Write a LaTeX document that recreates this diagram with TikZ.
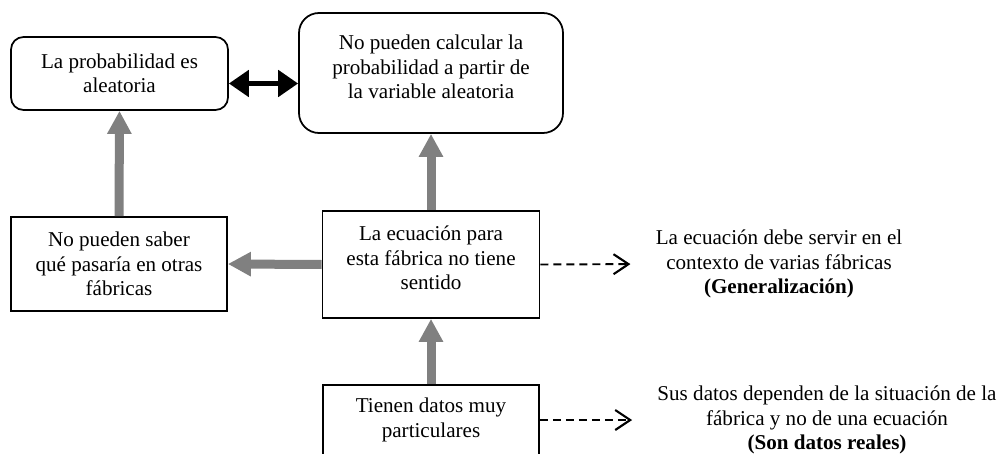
\documentclass[tikz,border=0pt]{standalone}
\usepackage{fontspec}
\setmainfont{Liberation Serif}
\usetikzlibrary{arrows.meta,positioning}

\tikzset{
  roundbox/.style={draw, line width=1pt, rounded corners=0.25cm, align=center,
    font=\fontsize{12}{13.9}\selectfont},
  squarebox/.style={draw, line width=1pt, align=center,
    font=\fontsize{12}{13.9}\selectfont},
  note/.style={align=center, inner sep=0pt, font=\fontsize{12}{13.9}\selectfont},
  grayarrow/.style={draw=gray, line width=0.18cm, -{Triangle[width=0.46cm,length=0.46cm]}},
  dblarrow/.style={line width=0.1cm,
    {Triangle[width=0.52cm,length=0.4cm]}-{Triangle[width=0.52cm,length=0.4cm]}},
  dasharrow/.style={line width=1.1pt, dash pattern=on 0.16cm off 0.1cm,
    -{Straight Barb[length=0.3cm,width=0.4cm,line width=1.2pt]}, shorten >=0.5cm}
}

\begin{document}
\begin{tikzpicture}
    \useasboundingbox (0,0) rectangle (20.04,9.06);
    % top row
    \node[roundbox, minimum width=4.34cm, minimum height=1.46cm] (azar) at (2.39,7.59)
        {La probabilidad es\\aleatoria};
    \node[roundbox, rounded corners=0.4cm, minimum width=5.28cm, minimum height=2.4cm] (calc) at (8.62,7.6)
        {No pueden calcular la\\probabilidad a partir de\\la variable aleatoria\\[-6.8pt]\mbox{}};
    % middle row
    \node[squarebox, minimum width=4.32cm, minimum height=1.88cm] (saber) at (2.38,3.78)
        {No pueden saber\\qué pasaría en otras\\fábricas};
    \node[squarebox, minimum width=4.34cm, minimum height=2.14cm] (ecua) at (8.62,3.77)
        {La ecuación para\\esta fábrica no tiene\\sentido\\[-6.2pt]\mbox{}};
    % bottom row
    \node[squarebox, minimum width=4.32cm, minimum height=1.4cm] (datos) at (8.62,0.66)
        {Tienen datos muy\\particulares};
    % notes
    \node[note] (gen) at (15.58,3.78)
        {La ecuación debe servir en el\\contexto de varias fábricas\\\textbf{(Generalización)}};
    \node[note] (real) at (16.54,0.66)
        {Sus datos dependen de la situación de la\\fábrica y no de una ecuación\\\textbf{(Son datos reales)}};

    \draw[dblarrow] ([yshift=-0.2cm]azar.east) -- ([yshift=-0.2cm]azar.east -| calc.west);
    \draw[grayarrow] (saber.north) -- (azar.south);
    \draw[grayarrow] (ecua.north) -- (calc.south);
    \draw[grayarrow] (ecua.west) -- (saber.east);
    \draw[grayarrow] (datos.north) -- (ecua.south);
    \draw[dasharrow] (ecua.east) -- (gen.west);
    \draw[dasharrow] (datos.east) -- (real.west);
\end{tikzpicture}
\end{document}
